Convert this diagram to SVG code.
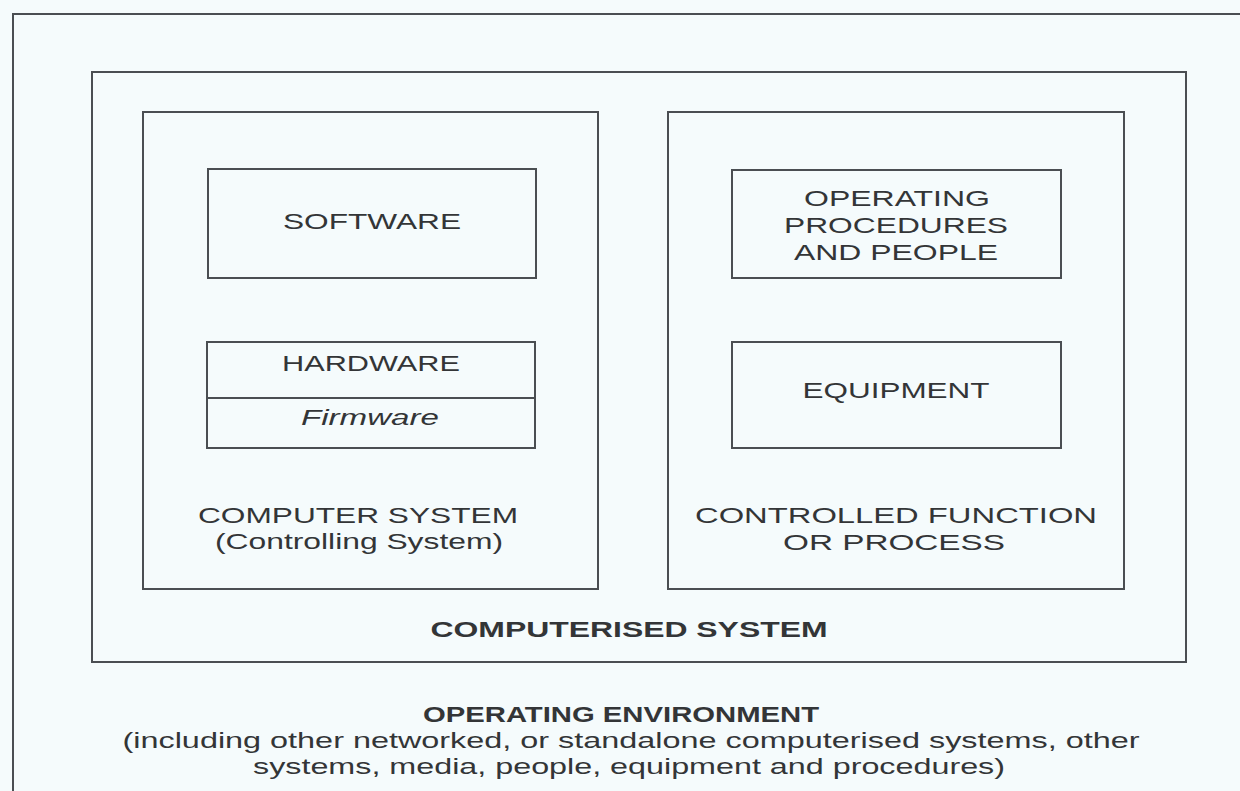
<svg xmlns="http://www.w3.org/2000/svg" width="1240" height="791" viewBox="0 0 1240 791">
<style>
.bg{fill:#f5fbfc}
.box{fill:none;stroke:#4a4e52;stroke-width:2}
.t{font-family:"Liberation Sans",Arial,sans-serif;font-size:22px;fill:#333537;text-anchor:middle}
.b{font-weight:bold}
.i{font-style:italic}
</style>
<rect class="bg" x="0" y="0" width="1240" height="791"/>
<g id="operating-environment">
  <path class="box" d="M13,791 V14 H1240"/>
  <text class="t b" x="621" y="722" textLength="396" lengthAdjust="spacingAndGlyphs">OPERATING ENVIRONMENT</text>
  <text class="t" x="631" y="748" textLength="1017" lengthAdjust="spacingAndGlyphs">(including other networked, or standalone computerised systems, other</text>
  <text class="t" x="629" y="774" textLength="752" lengthAdjust="spacingAndGlyphs">systems, media, people, equipment and procedures)</text>
</g>
<g id="computerised-system">
  <rect class="box" x="92" y="72" width="1094" height="590"/>
  <text class="t b" x="629" y="637" textLength="397" lengthAdjust="spacingAndGlyphs">COMPUTERISED SYSTEM</text>
</g>
<g id="computer-system">
  <rect class="box" x="143" y="112" width="455" height="477"/>
  <text class="t" x="358" y="523" textLength="320" lengthAdjust="spacingAndGlyphs">COMPUTER SYSTEM</text>
  <text class="t" x="359" y="549" textLength="288" lengthAdjust="spacingAndGlyphs">(Controlling System)</text>
</g>
<g id="software">
  <rect class="box" x="208" y="169" width="328" height="109"/>
  <text class="t" x="372" y="229" textLength="178" lengthAdjust="spacingAndGlyphs">SOFTWARE</text>
</g>
<g id="hardware">
  <rect class="box" x="207" y="342" width="328" height="106"/>
  <line class="box" x1="207" y1="398" x2="535" y2="398"/>
  <text class="t" x="371" y="371" textLength="178" lengthAdjust="spacingAndGlyphs">HARDWARE</text>
  <text class="t i" x="370" y="425" textLength="138" lengthAdjust="spacingAndGlyphs">Firmware</text>
</g>
<g id="controlled-function">
  <rect class="box" x="668" y="112" width="456" height="477"/>
  <text class="t" x="896" y="523" textLength="402" lengthAdjust="spacingAndGlyphs">CONTROLLED FUNCTION</text>
  <text class="t" x="894" y="550" textLength="222" lengthAdjust="spacingAndGlyphs">OR PROCESS</text>
</g>
<g id="operating-procedures">
  <rect class="box" x="732" y="170" width="329" height="108"/>
  <text class="t" x="897" y="206" textLength="186" lengthAdjust="spacingAndGlyphs">OPERATING</text>
  <text class="t" x="896" y="233" textLength="224" lengthAdjust="spacingAndGlyphs">PROCEDURES</text>
  <text class="t" x="896" y="260" textLength="204" lengthAdjust="spacingAndGlyphs">AND PEOPLE</text>
</g>
<g id="equipment">
  <rect class="box" x="732" y="342" width="329" height="106"/>
  <text class="t" x="896" y="398" textLength="187" lengthAdjust="spacingAndGlyphs">EQUIPMENT</text>
</g>
<g id="connectors"/>
</svg>
